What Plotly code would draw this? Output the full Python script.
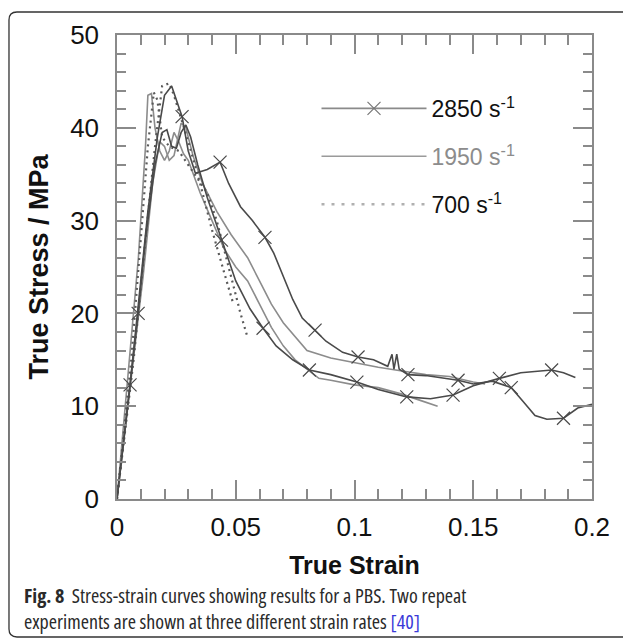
import plotly.graph_objects as go

# ---------------- data ----------------
strain_2850_a = [0, 0.0055, 0.009, 0.013, 0.017, 0.020, 0.023, 0.025, 0.0274, 0.030, 0.033, 0.038,
                 0.0434, 0.047, 0.052, 0.057, 0.0623, 0.066, 0.070, 0.074, 0.078, 0.0834, 0.088,
                 0.095, 0.1015, 0.108, 0.114, 0.1158, 0.1166, 0.1178, 0.1188, 0.1225, 0.130,
                 0.1436, 0.150, 0.158, 0.166, 0.171, 0.176, 0.181, 0.188, 0.194, 0.2]
stress_2850_a = [0, 12.3, 21, 31, 39, 43.5, 44.5, 43, 41.2, 37.5, 35.1, 35.5,
                 36.3, 34, 31.5, 30, 28.2, 26.5, 24, 21.5, 19.5, 18.2, 17,
                 15.8, 15.3, 15.0, 14.3, 15.6, 14.0, 15.6, 14.0, 13.4, 13.3,
                 12.8, 12.4, 12.7, 12.0, 10.5, 9.0, 8.6, 8.7, 9.8, 10.2]

strain_2850_b = [0, 0.0089, 0.012, 0.016, 0.019, 0.021, 0.023, 0.025, 0.027, 0.029, 0.031, 0.034,
                 0.038, 0.044, 0.050, 0.056, 0.0615, 0.067, 0.074, 0.081, 0.090, 0.101, 0.110,
                 0.122, 0.132, 0.1415, 0.150, 0.161, 0.170, 0.183, 0.188, 0.193]
stress_2850_b = [0, 20, 28, 36, 39.5, 39.8, 38, 37.8, 39.5, 40.3, 39, 36,
                 32.5, 27.9, 23.5, 20.5, 18.4, 16.5, 15, 13.9, 13.4, 12.6, 11.8,
                 11.0, 10.8, 11.2, 12.2, 13.0, 13.6, 13.9, 13.6, 13.1]

marker_strain_2850 = [0.0055, 0.0274, 0.0434, 0.0623, 0.0834, 0.1015, 0.1225, 0.1436, 0.166, 0.188,
                      0.0089, 0.044, 0.0615, 0.081, 0.101, 0.122, 0.1415, 0.161, 0.183]
marker_stress_2850 = [12.3, 41.2, 36.3, 28.2, 18.2, 15.3, 13.4, 12.8, 12.0, 8.7,
                      20, 27.9, 18.4, 13.9, 12.6, 11.0, 11.2, 13.0, 13.9]

strain_1950_a = [0, 0.005, 0.009, 0.012, 0.013, 0.0145, 0.016, 0.018, 0.020, 0.022, 0.024, 0.026,
                 0.028, 0.030, 0.035, 0.040, 0.045, 0.050, 0.055, 0.060, 0.065, 0.070, 0.075,
                 0.080, 0.085, 0.090, 0.100, 0.110, 0.120, 0.128, 0.135]
stress_1950_a = [0, 14, 26, 38, 43.5, 43.7, 40, 37.5, 36.5, 37.5, 39.5, 38.5,
                 37.2, 36.5, 33, 30, 27, 25, 23.5, 21, 18.5, 16.5, 15,
                 14, 13, 12.8, 12.3, 12, 11.3, 10.6, 10]

strain_1950_b = [0, 0.006, 0.011, 0.015, 0.018, 0.020, 0.022, 0.024, 0.027, 0.029, 0.032, 0.036,
                 0.042, 0.048, 0.055, 0.060, 0.065, 0.070, 0.075, 0.080, 0.090, 0.100, 0.110,
                 0.120, 0.130, 0.140, 0.150, 0.155]
stress_1950_b = [0, 13, 24, 34, 38.5, 38, 36.5, 37, 40.5, 40, 37, 34,
                 31, 28.5, 26, 23.5, 21, 19, 17.5, 16, 15.2, 14.7, 14.2,
                 13.8, 13.4, 13.2, 12.6, 12.4]

strain_700_a = [0, 0.006, 0.010, 0.013, 0.0155, 0.017, 0.019, 0.022, 0.026, 0.030, 0.034, 0.038,
                0.042, 0.045, 0.048, 0.050, 0.052, 0.055]
stress_700_a = [0, 15, 28, 38, 43.8, 43, 39, 38, 37.5, 36, 34.5, 33,
                30, 27, 24, 22, 20, 17.4]

strain_700_b = [0, 0.007, 0.012, 0.016, 0.019, 0.022, 0.024, 0.027, 0.030, 0.035, 0.040, 0.045, 0.049]
stress_700_b = [0, 15, 28, 38, 44.5, 44.8, 43.5, 41, 38.5, 34, 29, 24.5, 21]

x_ticks = [0, 0.05, 0.1, 0.15, 0.2]
y_ticks = [0, 10, 20, 30, 40, 50]
legend_names = ["2850 s<sup>-1</sup>",
                "<span style='color:#8c8c8c'>1950 s<sup>-1</sup></span>",
                "700 s<sup>-1</sup>"]

# ---------------- styles ----------------
C2850 = "#4a4a4a"
C1950 = "#8c8c8c"
C700 = "#5a5a5a"
FONT = "Liberation Sans, Arial, sans-serif"

fig = go.Figure()

for sx, sy in [(strain_1950_a, stress_1950_a), (strain_1950_b, stress_1950_b)]:
    fig.add_trace(go.Scatter(x=sx, y=sy, mode="lines", showlegend=False,
                             line=dict(color=C1950, width=1.6)))
for sx, sy in [(strain_700_a, stress_700_a), (strain_700_b, stress_700_b)]:
    fig.add_trace(go.Scatter(x=sx, y=sy, mode="lines", showlegend=False,
                             line=dict(color=C700, width=2.2, dash="2px,4px")))
for sx, sy in [(strain_2850_a, stress_2850_a), (strain_2850_b, stress_2850_b)]:
    fig.add_trace(go.Scatter(x=sx, y=sy, mode="lines", showlegend=False,
                             line=dict(color=C2850, width=1.6)))
fig.add_trace(go.Scatter(x=marker_strain_2850, y=marker_stress_2850, mode="markers",
                         showlegend=False,
                         marker=dict(symbol="x-thin-open", size=13, color=C2850,
                                     line=dict(width=1.2, color=C2850))))

# legend proxies
fig.add_trace(go.Scatter(x=[None], y=[None], mode="lines+markers", name=legend_names[0],
                         legendgroup="a",
                         line=dict(color="#8a8a8a", width=1.6),
                         marker=dict(symbol="x-thin-open", size=13, color="#777",
                                     line=dict(width=1.2, color="#777"))))
fig.add_trace(go.Scatter(x=[None], y=[None], mode="lines", name=legend_names[1],
                         legendgroup="b", line=dict(color="#9a9a9a", width=1.6)))
fig.add_trace(go.Scatter(x=[None], y=[None], mode="lines", name=legend_names[2],
                         legendgroup="c", line=dict(color="#b0b0b0", width=2.5, dash="3px,7px")))

axis_common = dict(
    showline=True, linecolor="#8a8a8a", linewidth=1.5, mirror="ticks",
    ticks="inside", tickcolor="#8a8a8a", tickwidth=1.5, ticklen=19,
    showgrid=False, zeroline=False,
    tickfont=dict(family=FONT, size=26, color="#111"),
)

fig.update_xaxes(range=[0, 0.2], tickvals=x_ticks, ticktext=[str(v) for v in x_ticks],
                 minor=dict(dtick=0.01, ticks="inside", ticklen=10, tickcolor="#8a8a8a", tickwidth=1.5),
                 title=dict(text="<b>True Strain</b>", font=dict(family=FONT, size=25, color="#111"),
                            standoff=16),
                 ticklabelstandoff=4,
                 **axis_common)
fig.update_yaxes(range=[0, 50], tickvals=y_ticks,
                 minor=dict(dtick=2, ticks="inside", ticklen=9, tickcolor="#8a8a8a", tickwidth=1.5),
                 title=dict(text="<b>True Stress / MPa</b>", font=dict(family=FONT, size=27, color="#111"),
                            standoff=14),
                 ticklabelstandoff=11,
                 **axis_common)

fig.update_layout(
    width=623, height=641,
    margin=dict(l=117, r=31, t=35, b=142, autoexpand=False),
    paper_bgcolor="white", plot_bgcolor="white",
    legend=dict(x=0.42, y=0.888, xanchor="left", yanchor="top",
                font=dict(family=FONT, size=23, color="#111"),
                itemwidth=105, tracegroupgap=15, bgcolor="rgba(0,0,0,0)",
                traceorder="grouped"),
    annotations=[dict(
        xref="paper", yref="paper", x=-0.2, y=-0.175, xanchor="left", yanchor="top",
        align="left", showarrow=False,
        text=("<span style='font-stretch:79%'><b>Fig. 8</b>&nbsp;&nbsp;Stress-strain curves showing results for a PBS. Two repeat</span><br>"
              "<span style='font-stretch:79%'>experiments are shown at three different strain rates "
              "<span style='color:#3a3ad8'>[40]</span></span>"),
        font=dict(family="Open Sans, sans-serif", size=20, color="#2a2a2a"),
    )],
    shapes=[dict(
        type="path", xref="paper", yref="paper",
        path=("M 1.07,1.0496 L -0.2106,1.0496 Q -0.2274,1.0496 -0.2274,1.0324 "
              "L -0.2274,-0.2802 Q -0.2274,-0.2974 -0.2106,-0.2974 L 1.07,-0.2974"),
        line=dict(color="#333", width=1.3),
    )],
)

fig.write_html("out.html")
